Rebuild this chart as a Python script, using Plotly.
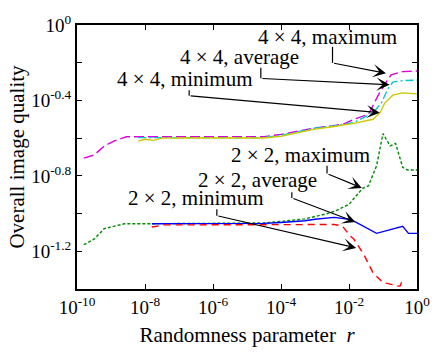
import numpy as np
import plotly.graph_objects as go

# ---- data (log10 r, log10 quality) ----
mag_x = [-9.8, -9.5, -9.2, -8.9, -8.55, -8.0, -7.0, -6.0, -5.0, -4.5, -4.0, -3.3, -3.0, -2.5, -2.15, -1.86, -1.43, -1.33, -1.14, -0.88, -0.76, -0.42, 0.0]
mag_y = [-0.706, -0.69, -0.642, -0.614, -0.593, -0.593, -0.593, -0.593, -0.593, -0.592, -0.58, -0.556, -0.546, -0.535, -0.525, -0.50, -0.474, -0.44, -0.372, -0.295, -0.264, -0.247, -0.244]

cyan_x = [-8.2, -7.5, -6.0, -5.0, -4.5, -4.0, -3.3, -3.0, -2.44, -1.86, -1.57, -1.29, -1.05, -0.85, -0.71, -0.42, 0.0]
cyan_y = [-0.597, -0.597, -0.597, -0.597, -0.597, -0.585, -0.559, -0.547, -0.535, -0.517, -0.491, -0.465, -0.414, -0.337, -0.303, -0.295, -0.292]

yel_x = [-8.2, -8.0, -7.75, -7.5, -7.0, -6.0, -5.0, -4.5, -4.0, -3.3, -3.0, -2.44, -1.86, -1.29, -1.09, -0.95, -0.71, -0.42, 0.0]
yel_y = [-0.616, -0.606, -0.612, -0.600, -0.599, -0.599, -0.599, -0.599, -0.59, -0.565, -0.552, -0.538, -0.522, -0.50, -0.465, -0.414, -0.372, -0.360, -0.365]

grn_x = [-9.8, -9.5, -9.2, -8.9, -8.6, -8.0, -7.0, -6.0, -5.0, -4.5, -4.0, -3.3, -2.7, -2.4, -2.0, -1.6, -1.43, -1.19, -1.0, -0.79, -0.63, -0.42, -0.28, 0.0]
grn_y = [-1.165, -1.136, -1.08, -1.068, -1.054, -1.054, -1.054, -1.054, -1.054, -1.05, -1.042, -1.028, -1.003, -0.986, -0.951, -0.866, -0.853, -0.747, -0.576, -0.641, -0.628, -0.755, -0.769, -0.769]

blu_x = [-7.8, -7.0, -6.0, -5.0, -4.5, -4.0, -3.3, -3.0, -2.44, -2.0, -1.8, -1.19, -0.8, -0.42, -0.25, 0.0]
blu_y = [-1.054, -1.054, -1.054, -1.054, -1.052, -1.047, -1.038, -1.03, -1.02, -1.03, -1.045, -1.105, -1.085, -1.068, -1.105, -1.105]

red_x = [-7.8, -7.42, -7.0, -6.0, -5.0, -4.0, -3.0, -2.44, -2.2, -1.96, -1.86, -1.57, -1.29, -1.14, -1.0, -0.71, -0.62, -0.5, -0.42]
red_y = [-1.071, -1.06, -1.06, -1.06, -1.06, -1.06, -1.058, -1.058, -1.065, -1.12, -1.135, -1.215, -1.315, -1.344, -1.366, -1.377, -1.385, -1.385, -1.35]

x_tick_exp = [-10, -8, -6, -4, -2, 0]
x_tick_text = ["10<sup>-10</sup>", "10<sup>-8</sup>", "10<sup>-6</sup>", "10<sup>-4</sup>", "10<sup>-2</sup>", "10<sup>0</sup>"]
y_tick_exp = [-1.4, -1.2, -1.0, -0.8, -0.6, -0.4, -0.2, 0.0]
y_tick_text = ["", "10<sup>-1.2</sup>", "", "10<sup>-0.8</sup>", "", "10<sup>-0.4</sup>", "", "10<sup>0</sup>"]

FONT = "Liberation Serif, Times New Roman, serif"

series = [
    (mag_x, mag_y, "rgb(220,0,220)", "10px,4px", "4 × 4, maximum"),
    (cyan_x, cyan_y, "rgb(0,200,210)", "8px,3px,2px,3px", "4 × 4, average"),
    (yel_x, yel_y, "rgb(205,200,0)", "solid", "4 × 4, minimum"),
    (grn_x, grn_y, "rgb(0,140,0)", "3px,2px", "2 × 2, maximum"),
    (blu_x, blu_y, "rgb(0,0,255)", "solid", "2 × 2, average"),
    (red_x, red_y, "rgb(255,0,0)", "7px,5px", "2 × 2, minimum"),
]

fig = go.Figure()
for xs, ys, col, dash, name in series:
    fig.add_trace(go.Scatter(
        x=10 ** np.array(xs), y=10 ** np.array(ys), mode="lines", name=name,
        line=dict(color=col, width=1.4, dash=dash), showlegend=False))

axis_common = dict(
    type="log", showgrid=False, zeroline=False, showline=True, linecolor="black",
    linewidth=2, mirror="ticks", ticks="inside", ticklen=5, tickwidth=1.2,
    tickcolor="black", tickfont=dict(family=FONT, size=19, color="black"),
)

fig.update_xaxes(range=[-10, 0], tickmode="array",
                 tickvals=[10.0 ** e for e in x_tick_exp], ticktext=x_tick_text,
                 title=dict(text="Randomness parameter  <i>r</i>",
                            font=dict(family=FONT, size=21, color="black"), standoff=11),
                 **axis_common)
fig.update_yaxes(range=[-1.4, 0], tickmode="array",
                 tickvals=[10.0 ** e for e in y_tick_exp], ticktext=y_tick_text,
                 title=dict(text="Overall image quality",
                            font=dict(family=FONT, size=21, color="black"), standoff=1),
                 **axis_common)

# ---- annotations: (label, label_x, label_y, elbow_x, elbow_top_y, elbow_bot_y, tip_x, tip_y) ----
labels = [
    ("4 × 4, maximum", -2.637, -0.061, -2.485, -0.116, -0.201, -0.912, -0.256),
    ("4 × 4, average", -5.226, -0.170, -4.593, -0.227, -0.283, -0.805, -0.317),
    ("4 × 4, minimum", -6.82, -0.286, -6.701, -0.346, -0.375, -1.093, -0.465),
    ("2 × 2, maximum", -3.428, -0.690, -2.646, -0.747, -0.788, -1.622, -0.864),
    ("2 × 2, average", -4.688, -0.824, -3.681, -0.887, -0.917, -1.812, -1.045),
    ("2 × 2, minimum", -6.506, -0.917, -5.887, -0.977, -1.011, -1.789, -1.182),
]

for text, lx, ly, ex, ey0, ey1, tx, ty in labels:
    fig.add_annotation(x=lx, y=ly, xref="x", yref="y", text=text, showarrow=False,
                       font=dict(family=FONT, size=21, color="black"),
                       xanchor="center", yanchor="middle")
    fig.add_shape(type="line", xref="paper", yref="paper",
                  x0=(ex + 10) / 10, x1=(ex + 10) / 10,
                  y0=(ey0 + 1.4) / 1.4, y1=(ey1 + 1.4) / 1.4,
                  line=dict(color="black", width=1.2))
    fig.add_annotation(x=tx, y=ty, xref="x", yref="y", ax=ex, ay=ey1,
                       axref="x", ayref="y", text="", showarrow=True,
                       arrowhead=3, arrowsize=2, arrowwidth=1.1, arrowcolor="black",
                       standoff=0)

fig.update_layout(
    width=442, height=355, margin=dict(l=77, r=17, t=24, b=57),
    paper_bgcolor="white", plot_bgcolor="white",
    font=dict(family=FONT, size=19, color="black"),
)

fig.write_html("out.html")
